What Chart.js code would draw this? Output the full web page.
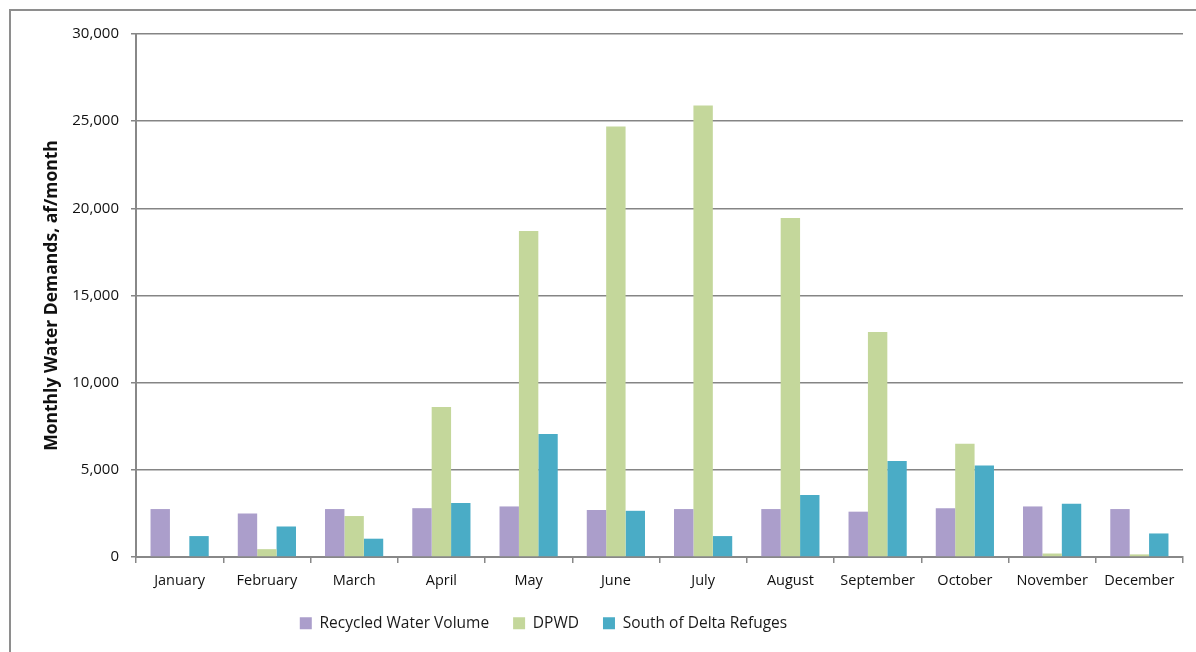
<!DOCTYPE html>
<html>
<head>
<meta charset="utf-8">
<script src="https://cdn.jsdelivr.net/npm/chart.js@4/dist/chart.umd.min.js"></script>
<style>
  html, body { margin: 0; padding: 0; background: #fff; overflow: hidden; }
  #frame { position: absolute; left: 9px; top: 9px; width: 1300px; height: 800px;
           border-top: 2px solid #8e8e8e; border-left: 2px solid #8e8e8e; }
  #wrap { position: absolute; left: 0; top: 0; width: 1196px; height: 640px; }
</style>
</head>
<body>
<div id="frame"></div>
<div id="wrap"><canvas id="chart"></canvas></div>
<script>
// Monthly water demands (acre-feet per month)
const months = ['January', 'February', 'March', 'April', 'May', 'June',
                'July', 'August', 'September', 'October', 'November', 'December'];
const recycledWater = [2750, 2500, 2750, 2800, 2900, 2700, 2750, 2750, 2600, 2800, 2900, 2750];
const dpwd = [0, 450, 2350, 8600, 18700, 24700, 25900, 19450, 12900, 6500, 200, 150];
const southDeltaRefuges = [1200, 1750, 1050, 3100, 7050, 2650, 1200, 3550, 5500, 5250, 3050, 1350];
const yTickValues = [0, 5000, 10000, 15000, 20000, 25000, 30000];

const FONT = "'Open Sans', 'Liberation Sans', sans-serif";

// Nudge the legend row left of the canvas centre, under the plot's middle months
const legendShift = {
  id: 'legendShift',
  afterLayout(chart) {
    const lg = chart.legend;
    if (lg) { lg.left -= 48; lg.right -= 48; lg.top += 1; lg.bottom += 1; }
  }
};

new Chart(document.getElementById('chart'), {
  type: 'bar',
  data: {
    labels: months,
    datasets: [
      { label: 'Recycled Water Volume', data: recycledWater, backgroundColor: '#ab9ecb' },
      { label: 'DPWD', data: dpwd, backgroundColor: '#c4d79b' },
      { label: 'South of Delta Refuges', data: southDeltaRefuges, backgroundColor: '#4aacc6' }
    ]
  },
  plugins: [legendShift],
  options: {
    responsive: true,
    maintainAspectRatio: false,
    animation: false,
    layout: { padding: { top: 34, right: 13, bottom: 0, left: 0 } },
    datasets: { bar: { categoryPercentage: 0.667, barPercentage: 1.0 } },
    plugins: {
      tooltip: { enabled: false },
      legend: {
        position: 'bottom',
        labels: {
          font: { family: FONT, size: 15.5 },
          color: '#1a1a1a',
          boxWidth: 12,
          boxHeight: 12,
          padding: 24
        }
      }
    },
    scales: {
      x: {
        grid: { display: true, drawOnChartArea: false, drawTicks: true, tickLength: 6,
                color: '#888', lineWidth: 1.5 },
        border: { display: true, color: '#888', width: 2 },
        ticks: { font: { family: FONT, size: 14.5 }, color: '#111', padding: 9,
                 maxRotation: 0, autoSkip: false },
        afterFit: s => { s.height = 33.5; }
      },
      y: {
        min: 0,
        max: 30000,
        afterBuildTicks: s => { s.ticks = yTickValues.map(v => ({ value: v })); },
        grid: { color: '#858585', lineWidth: 1.5, tickLength: 5 },
        border: { display: true, color: '#888', width: 2 },
        ticks: {
          font: { family: FONT, size: 15 },
          color: '#111',
          padding: 12,
          callback: v => v.toLocaleString('en-US')
        },
        title: {
          display: true,
          text: 'Monthly Water Demands, af/month',
          font: { family: FONT, size: 17.5, weight: 'bold' },
          color: '#111',
          padding: { top: 42, bottom: 0 }
        },
        afterFit: s => { s.width = 136; }
      }
    }
  }
});
</script>
</body>
</html>
